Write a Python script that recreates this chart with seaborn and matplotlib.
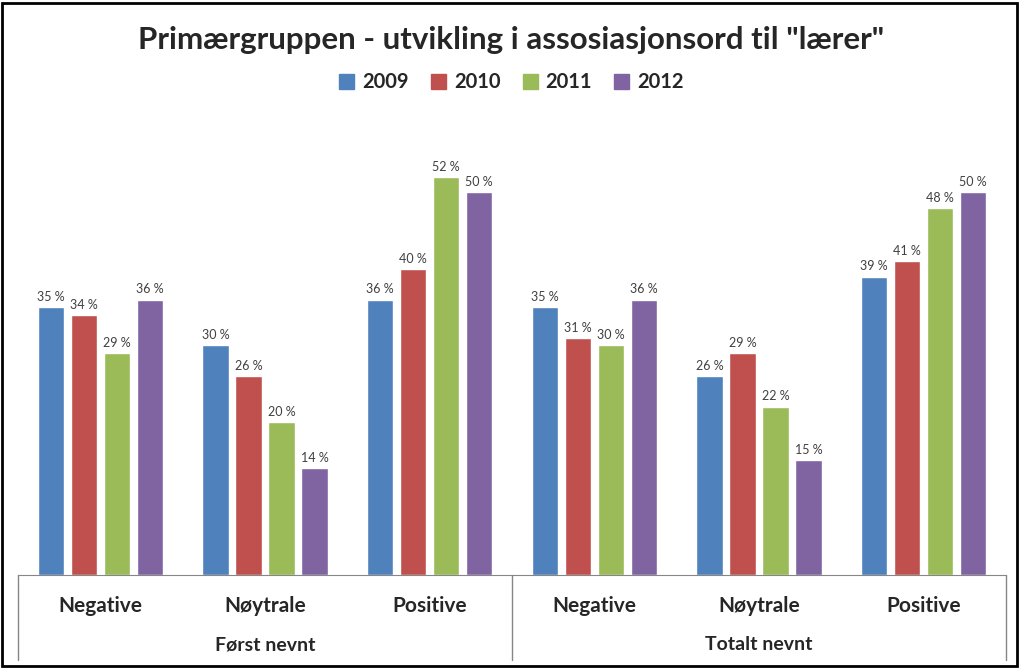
import numpy as np
import pandas as pd
import matplotlib
matplotlib.use("Agg")
import matplotlib.pyplot as plt
import matplotlib.transforms as mtransforms
from matplotlib.patches import Rectangle
import seaborn as sns

# chart data
years = ["2009", "2010", "2011", "2012"]
categories = ["Negative", "Nøytrale", "Positive"]
groups = ["Først nevnt", "Totalt nevnt"]
forst_nevnt = {
    "2009": [35, 30, 36],
    "2010": [34, 26, 40],
    "2011": [29, 20, 52],
    "2012": [36, 14, 50],
}
totalt_nevnt = {
    "2009": [35, 26, 39],
    "2010": [31, 29, 41],
    "2011": [30, 22, 48],
    "2012": [36, 15, 50],
}
colors = ["#4F81BD", "#C0504D", "#9BBB59", "#8064A2"]

rows = []
for g, src in zip(groups, [forst_nevnt, totalt_nevnt]):
    for i, cat in enumerate(categories):
        for y in years:
            rows.append({"slot": f"{g}|{cat}", "year": y, "value": src[y][i]})
df = pd.DataFrame(rows)
order = [f"{g}|{c}" for g in groups for c in categories]

sns.set_style("white")
plt.rcParams["font.family"] = ["Lato", "DejaVu Sans"]

fig = plt.figure(figsize=(10.23, 6.69), dpi=100)
ax = fig.add_axes([0.0176, 0.1405, 0.9658, 0.6726])

sns.barplot(data=df, x="slot", y="value", hue="year", order=order,
            hue_order=years, palette=colors, width=0.8, gap=0.2,
            saturation=1, ax=ax, legend=True)

for cont in ax.containers:
    ax.bar_label(cont, fmt="{:.0f} %", padding=3, fontsize=9, color="#404040")

ax.set_ylim(0, 58.8)
ax.set_xlim(-0.5, 5.5)
ax.set_yticks([])
ax.set_ylabel("")
ax.set_xlabel("")
ax.set_xticks(range(6))
ax.set_xticklabels(categories * 2, fontsize=15, fontweight="bold")
ax.tick_params(axis="x", length=0, pad=15)
for s in ["left", "right", "top"]:
    ax.spines[s].set_visible(False)
ax.spines["bottom"].set_color("#868686")

# separators and group labels under the axis
trans = mtransforms.blended_transform_factory(ax.transData, ax.transAxes)
for xpos in [-0.5, 2.5, 5.5]:
    ax.plot([xpos, xpos], [0, -0.19], transform=trans, color="#868686",
            lw=1, clip_on=False)
for i, g in enumerate(groups):
    ax.text(1 + 3 * i, -0.155, g, transform=trans, ha="center", va="center",
            fontsize=14, fontweight="bold")

ax.get_legend().remove()
handles = [Rectangle((0, 0), 1, 1, color=c) for c in colors]
fig.legend(handles, years, loc="center", bbox_to_anchor=(0.5, 0.877), ncol=4,
           frameon=False, handlelength=0.75, handleheight=0.75,
           handletextpad=0.4, columnspacing=1.1,
           prop={"size": 14.5, "weight": "bold"})

fig.text(0.5, 0.94, 'Primærgruppen - utvikling i assosiasjonsord til "lærer"',
         ha="center", va="center", fontsize=22.5, fontweight="bold")

fig.patches.append(Rectangle((0.002, 0.004), 0.992, 0.992, transform=fig.transFigure,
                             fill=False, edgecolor="black", lw=2))

fig.savefig("out.png", dpi=100)
